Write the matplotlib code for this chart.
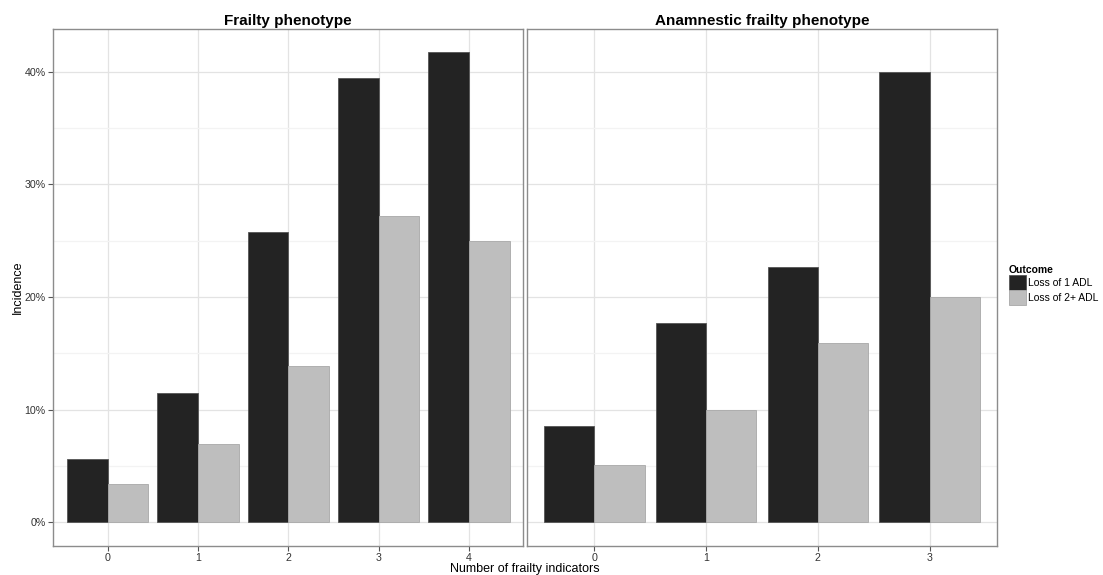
import matplotlib
matplotlib.use("Agg")
import matplotlib.pyplot as plt
import numpy as np
from matplotlib.patches import Patch

plt.rcParams['font.family'] = ['Liberation Sans', 'DejaVu Sans']

panel_titles = ["Frailty phenotype", "Anamnestic frailty phenotype"]
categories_left = ["0", "1", "2", "3", "4"]
loss1_left = [5.6, 11.5, 25.8, 39.4, 41.7]
loss2_left = [3.4, 6.9, 13.9, 27.2, 25.0]
categories_right = ["0", "1", "2", "3"]
loss1_right = [8.5, 17.7, 22.7, 40.0]
loss2_right = [5.1, 10.0, 15.9, 20.0]
series_labels = ["Loss of 1 ADL", "Loss of 2+ ADL"]
legend_title = "Outcome"
xlabel = "Number of frailty indicators"
ylabel = "Incidence"
yticks = [0, 10, 20, 30, 40]

c_dark = "#232323"
c_light = "#BEBEBE"
W, H = 1103, 575
fig = plt.figure(figsize=(W / 100, H / 100), dpi=100)

def fx(px):
    return px / W

def fy(py):
    return 1 - py / H

top, bottom = 29, 545.7
ax1 = fig.add_axes([fx(53.3), fy(bottom), fx(523.3 - 53.3), fy(top) - fy(bottom)])
ax2 = fig.add_axes([fx(527.3), fy(bottom), fx(996.7 - 527.3), fy(top) - fy(bottom)])

ymax = max(max(loss1_left), max(loss1_right))
for ax, cats, s1, s2, title in [(ax1, categories_left, loss1_left, loss2_left, panel_titles[0]),
                                (ax2, categories_right, loss1_right, loss2_right, panel_titles[1])]:
    x = np.arange(len(cats))
    ax.bar(x - 0.225, s1, width=0.45, color=c_dark, edgecolor="#555555", linewidth=0.6, zorder=3)
    ax.bar(x + 0.225, s2, width=0.45, color=c_light, edgecolor="#A8A8A8", linewidth=0.6, zorder=3)
    ax.set_xlim(-0.6, len(cats) - 0.4)
    ax.set_ylim(-0.05 * ymax, ymax * 1.05)
    ax.set_xticks(x)
    ax.set_xticklabels(cats)
    ax.set_yticks(yticks)
    ax.set_yticks([5, 15, 25, 35], minor=True)
    ax.grid(True, which="major", color="#E3E3E3", linewidth=0.9, zorder=0)
    ax.grid(True, which="minor", axis="y", color="#F3F3F3", linewidth=0.9, zorder=0)
    for sp in ax.spines.values():
        sp.set_color("#8C8C8C")
        sp.set_linewidth(1.0)
    ax.tick_params(axis="both", which="major", length=3.5, width=0.8, color="#555555",
                   labelsize=7.7, labelcolor="#333333", pad=2)
    ax.tick_params(axis="both", which="minor", length=0)
    ax.set_title(title, fontsize=11, fontweight="bold", pad=3)
    ax.set_axisbelow(True)

ax1.set_yticklabels([f"{v}%" for v in yticks])
ax2.tick_params(axis="y", which="major", length=0, labelleft=False)

fig.text(fx(525), fy(569), xlabel, ha="center", va="center", fontsize=9)
fig.text(fx(18), fy(287), ylabel, ha="center", va="center", rotation=90, fontsize=9)

handles = [Patch(facecolor=c_dark, edgecolor="#555555", linewidth=0.6),
           Patch(facecolor=c_light, edgecolor="#A8A8A8", linewidth=0.6)]
leg = fig.legend(handles, series_labels, title=legend_title, loc="upper left",
                 bbox_to_anchor=(fx(1007), fy(263)), frameon=False, fontsize=7.5,
                 title_fontproperties={"weight": "bold", "size": 7.5},
                 handlelength=1.6, handleheight=1.8, handletextpad=0.25,
                 labelspacing=0.0, borderaxespad=0, borderpad=0.2)
leg._legend_box.align = "left"

fig.savefig("out.png", dpi=100)
